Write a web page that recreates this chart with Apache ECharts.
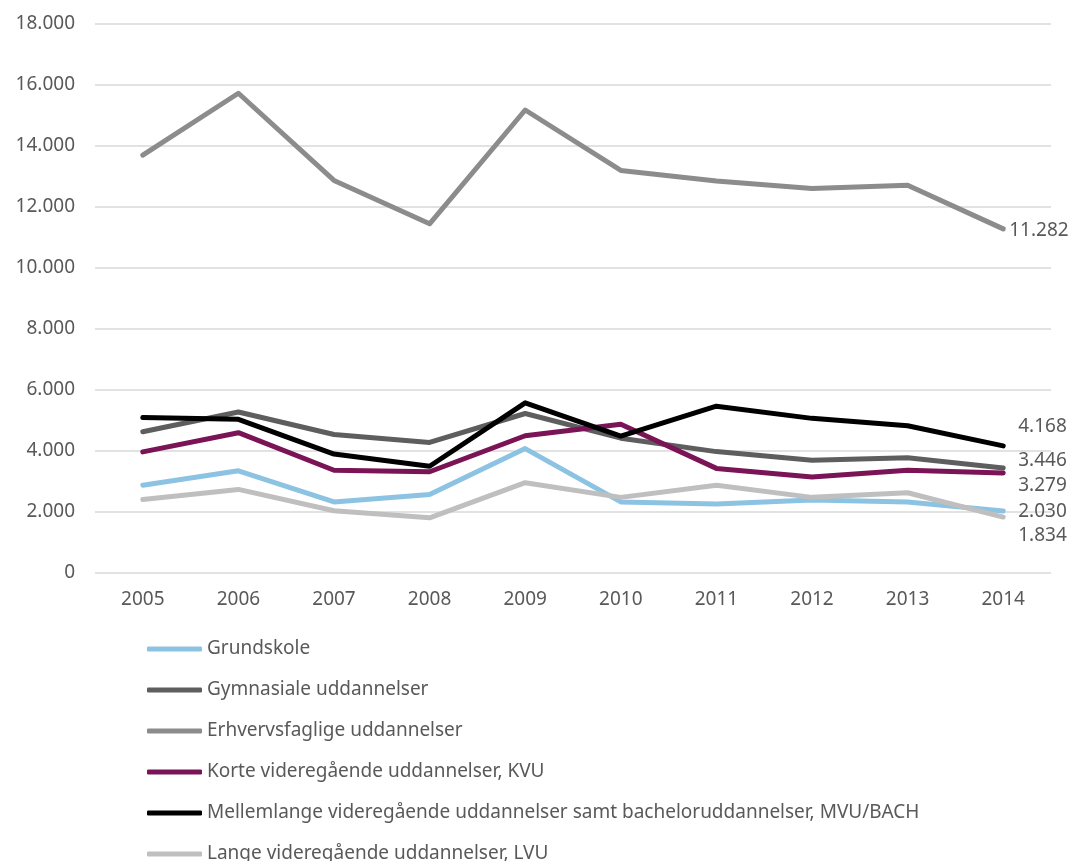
<!DOCTYPE html>
<html>
<head>
<meta charset="utf-8">
<script src="https://cdn.jsdelivr.net/npm/echarts@6/dist/echarts.min.js"></script>
<style>
  html, body { margin: 0; padding: 0; background: #fff; }
  #chart { width: 1074px; height: 861px; }
</style>
</head>
<body>
<div id="chart"></div>
<script>
const years = ['2005', '2006', '2007', '2008', '2009', '2010', '2011', '2012', '2013', '2014']

const grundskole = [2880, 3350, 2330, 2570, 4080, 2330, 2260, 2390, 2330, 2030]
const gymnasiale = [4630, 5280, 4540, 4280, 5230, 4420, 3980, 3700, 3780, 3446]
const erhvervsfaglige = [13700, 15730, 12870, 11450, 15180, 13200, 12850, 12610, 12710, 11282]
const kvu = [3970, 4600, 3370, 3320, 4500, 4880, 3430, 3150, 3370, 3279]
const mvu = [5100, 5040, 3900, 3500, 5580, 4490, 5470, 5070, 4830, 4168]
const lvu = [2410, 2740, 2040, 1810, 2960, 2480, 2880, 2480, 2630, 1834]

const yTicks = [0, 2000, 4000, 6000, 8000, 10000, 12000, 14000, 16000, 18000]

const fmt = (v) => String(v).replace(/\B(?=(\d{3})+(?!\d))/g, '.')

const FONT = '"Noto Sans", "Open Sans", sans-serif'
const TEXT = '#595959'
const FS = 19

// end label offsets keep the values apart on the right side
function makeSeries(name, values, color, labelOffset) {
  return {
    name,
    type: 'line',
    data: values,
    showSymbol: false,
    symbol: 'none',
    lineStyle: { color, width: 5, cap: 'round', join: 'round' },
    itemStyle: { color },
    emphasis: { disabled: true },
    endLabel: {
      show: true,
      distance: 3,
      offset: labelOffset,
      formatter: (p) => fmt(p.value),
      color: TEXT,
      fontSize: FS,
      fontFamily: FONT,
    },
  }
}

const chart = echarts.init(document.getElementById('chart'), null, { renderer: 'canvas' })

chart.setOption({
  animation: false,
  textStyle: { fontFamily: FONT },
  grid: { left: 95, right: 23, top: 24, height: 549, containLabel: false },
  legend: {
    orient: 'vertical',
    left: 142,
    top: 633,
    height: 300,
    itemWidth: 55,
    itemHeight: 5,
    itemGap: 19,
    icon: 'roundRect',
    textStyle: { color: TEXT, fontSize: FS, fontFamily: FONT, lineHeight: 22 },
    selectedMode: false,
  },
  xAxis: {
    type: 'category',
    data: years,
    boundaryGap: true,
    axisLine: { show: false },
    axisTick: { show: false },
    axisLabel: { color: TEXT, fontSize: FS, fontFamily: FONT, margin: 17 },
  },
  yAxis: {
    type: 'value',
    min: yTicks[0],
    max: yTicks[yTicks.length - 1],
    interval: 2000,
    axisLine: { show: false },
    axisTick: { show: false },
    axisLabel: { color: TEXT, fontSize: FS, fontFamily: FONT, margin: 20, formatter: (v) => fmt(v) },
    splitLine: { lineStyle: { color: '#d9d9d9', width: 1.5 } },
  },
  series: [
    makeSeries('Grundskole', grundskole, '#8dc3e2', [12, 1]),
    makeSeries('Gymnasiale uddannelser', gymnasiale, '#5e5e5e', [12, -7]),
    makeSeries('Erhvervsfaglige uddannelser', erhvervsfaglige, '#8c8c8c', [3, 2]),
    makeSeries('Korte videregående uddannelser, KVU', kvu, '#7a1457', [12, 13]),
    makeSeries('Mellemlange videregående uddannelser samt bacheloruddannelser, MVU/BACH', mvu, '#000000', [12, -19]),
    makeSeries('Lange videregående uddannelser, LVU', lvu, '#bfbfbf', [12, 19]),
  ],
})
</script>
</body>
</html>
